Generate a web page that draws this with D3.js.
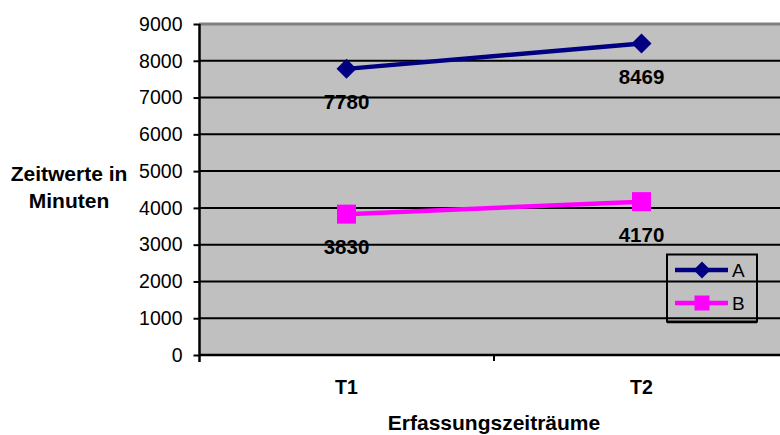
<!DOCTYPE html>
<html><head><meta charset="utf-8">
<script src="https://cdn.jsdelivr.net/npm/d3@7"></script>
<style>body{margin:0;background:#fff}svg{display:block}text{font-family:Arial,"Liberation Sans",sans-serif}</style>
</head><body><div id="c"></div>
<script>
const categories = ["T1", "T2"];
const seriesNames = ["A", "B"];
const valuesA = [7780, 8469];
const valuesB = [3830, 4170];
const yTicks = [0, 1000, 2000, 3000, 4000, 5000, 6000, 7000, 8000, 9000];
const yTitle = ["Zeitwerte in", "Minuten"];
const xTitle = "Erfassungszeiträume";

const W = 780, H = 435;
const svg = d3.select("#c").append("svg").attr("width", W).attr("height", H);

const x = d3.scaleBand().domain(categories).range([199, 789]).padding(0);
const y = d3.scaleLinear().domain([0, 9000]).range([355, 24]);
const cx = d => x(d) + x.bandwidth() / 2;

// plot area
svg.append("rect").attr("x", 199).attr("y", y(9000)).attr("width", 600).attr("height", y(0) - y(9000)).attr("fill", "#c0c0c0");

// gridlines
svg.append("g").selectAll("line").data(yTicks.filter(v => v > 0 && v < 9000)).join("line")
  .attr("x1", 199).attr("x2", 800).attr("y1", d => y(d)).attr("y2", d => y(d))
  .attr("stroke", "#000").attr("stroke-width", 2);
// top border
svg.append("line").attr("x1", 199).attr("x2", 800).attr("y1", y(9000)).attr("y2", y(9000))
  .attr("stroke", "#808080").attr("stroke-width", 3);

// y axis
const yAxis = d3.axisLeft(y).tickValues(yTicks).tickSize(6).tickPadding(11).tickFormat(d3.format("d"));
const gy = svg.append("g").attr("transform", "translate(199.5,0)").call(yAxis);
gy.select(".domain").remove();
gy.selectAll(".tick line").attr("stroke", "#000").attr("stroke-width", 2);
gy.selectAll(".tick text").attr("font-size", 19.5).attr("fill", "#000").attr("font-family", "Arial, 'Liberation Sans', sans-serif");
svg.append("line").attr("x1", 199.5).attr("x2", 199.5).attr("y1", y(9000)).attr("y2", y(0) + 7).attr("stroke", "#000").attr("stroke-width", 2.5);

// x axis
svg.append("line").attr("x1", 199).attr("x2", 800).attr("y1", y(0)).attr("y2", y(0)).attr("stroke", "#000").attr("stroke-width", 2.5);
const bounds = categories.map(c => x(c)).concat([x(categories[categories.length - 1]) + x.bandwidth()]);
svg.append("g").selectAll("line").data(bounds.slice(1)).join("line")
  .attr("x1", d => d).attr("x2", d => d).attr("y1", y(0)).attr("y2", y(0) + 6)
  .attr("stroke", "#000").attr("stroke-width", 2);
svg.append("g").selectAll("text").data(categories).join("text")
  .attr("x", d => cx(d)).attr("y", 394).attr("text-anchor", "middle")
  .attr("font-size", 19.5).attr("font-weight", "bold").text(d => d);

// titles
svg.append("text").attr("x", 494).attr("y", 430).attr("text-anchor", "middle")
  .attr("font-size", 21).attr("font-weight", "bold").text(xTitle);
svg.append("text").attr("x", 69).attr("y", 181).attr("text-anchor", "middle")
  .attr("font-size", 21).attr("font-weight", "bold")
  .selectAll("tspan").data(yTitle).join("tspan").attr("x", 69).attr("dy", (d, i) => i ? 27 : 0).text(d => d);

// series
const series = [
  { name: seriesNames[0], values: valuesA, color: "#000080", shape: "diamond" },
  { name: seriesNames[1], values: valuesB, color: "#ff00ff", shape: "square" }
];
const line = d3.line().x((d, i) => cx(categories[i])).y(d => y(d));
function marker(g, shape, color, px, py, s) {
  if (shape === "diamond") {
    g.append("path").attr("d", `M${px},${py - s / 2}L${px + s / 2},${py}L${px},${py + s / 2}L${px - s / 2},${py}Z`).attr("fill", color);
  } else {
    g.append("rect").attr("x", px - s / 2).attr("y", py - s / 2).attr("width", s).attr("height", s).attr("fill", color);
  }
}
series.forEach(s => {
  const g = svg.append("g");
  g.append("path").datum(s.values).attr("d", line).attr("fill", "none").attr("stroke", s.color).attr("stroke-width", 4.5);
  s.values.forEach((v, i) => marker(g, s.shape, s.color, cx(categories[i]), y(v), s.shape === "diamond" ? 20 : 19));
  g.selectAll("text").data(s.values).join("text")
    .attr("x", (d, i) => cx(categories[i])).attr("y", d => y(d) + 40)
    .attr("text-anchor", "middle").attr("font-size", 20.5).attr("font-weight", "bold").text(d => d);
});

// legend
const lg = svg.append("g");
lg.append("rect").attr("x", 667).attr("y", 254.5).attr("width", 90).attr("height", 67).attr("fill", "none").attr("stroke", "#000").attr("stroke-width", 2);
lg.append("line").attr("x1", 667).attr("x2", 757).attr("y1", 322.5).attr("y2", 322.5).attr("stroke", "#000").attr("stroke-width", 1.5);
series.forEach((s, i) => {
  const ly = 270 + i * 33;
  lg.append("line").attr("x1", 675).attr("x2", 728).attr("y1", ly).attr("y2", ly).attr("stroke", s.color).attr("stroke-width", 4.5);
  marker(lg, s.shape, s.color, 702, ly, s.shape === "diamond" ? 17 : 15);
  lg.append("text").attr("x", 732).attr("y", ly + 7).attr("font-size", 19).text(s.name);
});
</script></body></html>
